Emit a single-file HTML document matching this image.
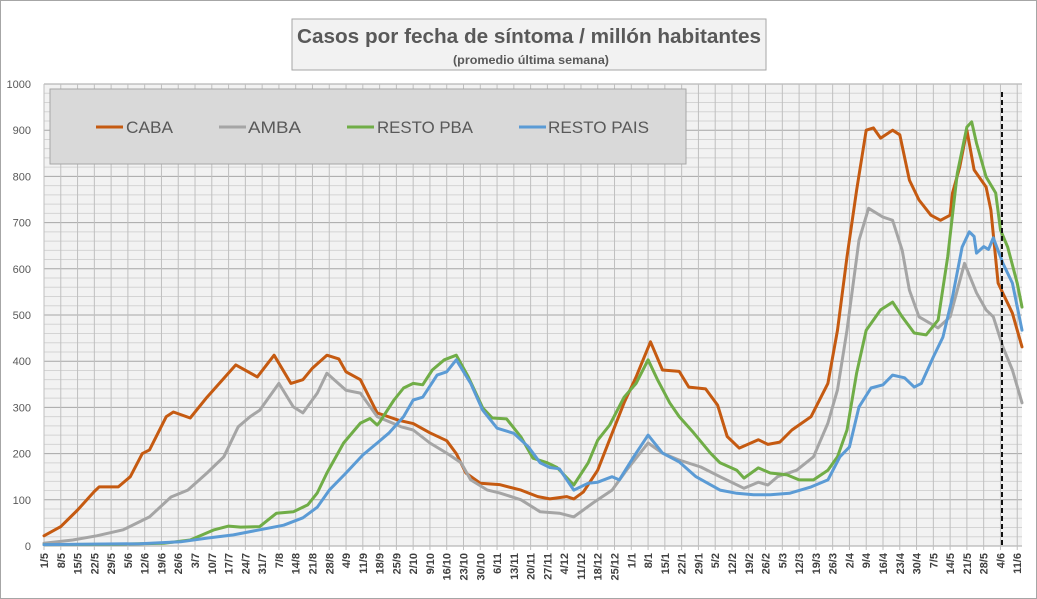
<!DOCTYPE html>
<html><head><meta charset="utf-8"><style>
html,body{margin:0;padding:0;background:#fff;}
svg{display:block;font-family:"Liberation Sans",sans-serif;}
</style></head><body>
<svg id="chart" width="1037" height="599" viewBox="0 0 1037 599">
<rect x="0.5" y="0.5" width="1036" height="598" fill="#fff" stroke="#a6a6a6"/>
<rect x="44" y="84" width="978" height="462" fill="#f2f2f2"/>
<g id="grid"></g>
<g id="yaxis"></g>
<g id="xaxis"></g>
<g id="series"></g>
<line x1="1002" y1="92" x2="1002" y2="546" stroke="#111" stroke-width="2" stroke-dasharray="5,3"/>
<g>
<rect x="292" y="19" width="474" height="51" fill="#f2f2f2" stroke="#a6a6a6"/>
<text x="529" y="43" text-anchor="middle" font-size="20" font-weight="bold" fill="#595959" textLength="464" lengthAdjust="spacingAndGlyphs">Casos por fecha de síntoma / millón habitantes</text>
<text x="531" y="64" text-anchor="middle" font-size="12" font-weight="bold" fill="#595959" textLength="156" lengthAdjust="spacingAndGlyphs">(promedio última semana)</text>
</g>
<g>
<rect x="50" y="89" width="636" height="75" fill="#d9d9d9" stroke="#a6a6a6"/>
<g><line x1="96" y1="127" x2="123" y2="127" stroke="#c55a11" stroke-width="3"/><text x="126" y="133" font-size="17" fill="#595959" textLength="47" lengthAdjust="spacingAndGlyphs">CABA</text></g>
<g><line x1="219" y1="127" x2="246" y2="127" stroke="#a5a5a5" stroke-width="3"/><text x="248" y="133" font-size="17" fill="#595959" textLength="53" lengthAdjust="spacingAndGlyphs">AMBA</text></g>
<g><line x1="347" y1="127" x2="374" y2="127" stroke="#70ad47" stroke-width="3"/><text x="377" y="133" font-size="17" fill="#595959" textLength="96" lengthAdjust="spacingAndGlyphs">RESTO PBA</text></g>
<g><line x1="519" y1="127" x2="546" y2="127" stroke="#5b9bd5" stroke-width="3"/><text x="548" y="133" font-size="17" fill="#595959" textLength="101" lengthAdjust="spacingAndGlyphs">RESTO PAIS</text></g>
</g>
</svg>
<script>
const tickLabels=["1/5","8/5","15/5","22/5","29/5","5/6","12/6","19/6","26/6","3/7","10/7","17/7","24/7","31/7","7/8","14/8","21/8","28/8","4/9","11/9","18/9","25/9","2/10","9/10","16/10","23/10","30/10","6/11","13/11","20/11","27/11","4/12","11/12","18/12","25/12","1/1","8/1","15/1","22/1","29/1","5/2","12/2","19/2","26/2","5/3","12/3","19/3","26/3","2/4","9/4","16/4","23/4","30/4","7/5","14/5","21/5","28/5","4/6","11/6"];
const yTicks=[0,100,200,300,400,500,600,700,800,900,1000];
const cabaDays=[0,7,14,21,23,31,36,41,44,51,54,61,68,80,89,96,103,108,112,118,123,126,132,139,148,154,161,168,172,176,182,190,199,206,211,218,221,225,231,237,242,247,253,258,265,269,276,281,285,290,298,302,307,312,320,327,331,335,339,343,346,349,354,357,361,365,370,374,378,379,382,385,388,393,395,398,404,408];
const cabaVals=[22,42,78,118,128,128,150,200,208,280,290,277,322,392,366,413,352,360,385,413,405,377,360,288,272,265,245,228,200,158,136,133,121,107,102,107,102,117,164,244,310,366,442,381,378,344,340,305,237,212,230,220,225,251,280,352,467,626,770,900,905,883,900,890,792,749,716,705,716,764,820,900,814,777,727,569,504,431];
const ambaDays=[0,12,22,33,44,53,60,68,75,81,86,90,98,104,108,114,118,126,132,139,149,154,161,168,174,178,185,190,199,207,215,221,229,237,243,252,258,265,274,282,292,298,302,306,314,321,327,331,335,340,344,350,354,358,361,365,373,378,384,389,393,396,400,404,408];
const ambaVals=[6,13,22,35,63,106,121,158,193,258,280,294,352,301,288,331,374,337,331,280,258,251,223,201,180,143,121,115,100,74,71,63,93,121,164,223,201,186,171,150,125,138,132,150,164,193,266,338,467,662,731,712,705,640,554,496,472,496,612,548,511,496,431,381,310];
const pbaDays=[0,30,50,61,71,77,82,90,97,104,110,114,118,125,132,136,139,140,146,150,154,158,162,167,172,177,183,187,193,199,204,210,214,221,227,231,236,242,247,252,256,261,265,271,278,282,289,292,298,303,310,315,321,327,331,335,339,343,349,354,358,363,368,373,377,381,385,387,389,393,397,399,402,406,408];
const pbaVals=[3,4,6,13,35,43,41,42,71,74,89,115,158,223,266,276,262,268,316,342,352,349,381,403,413,366,299,277,275,236,190,180,170,132,180,229,262,322,352,403,359,310,280,245,201,180,164,147,169,158,154,143,143,164,193,251,374,467,511,528,496,461,457,489,626,807,907,918,872,799,764,684,647,569,517];
const paisDays=[0,40,57,68,79,90,100,108,114,119,126,133,139,144,150,154,158,164,168,172,178,183,189,196,202,207,211,215,221,227,231,237,240,246,252,258,265,272,282,289,296,303,311,320,327,332,336,340,345,350,354,359,363,366,371,375,379,383,386,388,389,392,394,396,400,404,408];
const paisVals=[3,5,9,17,24,35,45,61,84,121,158,197,223,245,280,316,322,370,377,403,352,294,255,244,215,180,170,167,121,136,138,150,143,193,240,201,182,150,121,114,111,111,114,128,143,193,214,301,342,349,370,364,344,352,409,452,539,647,680,670,634,648,642,667,612,569,467];

const NS="http://www.w3.org/2000/svg";
const X0=44,PXD=16.78/7,Y0=546,PXV=0.462;
function xs(d){return X0+d*PXD;}
function ys(v){return Y0-v*PXV;}
function mk(tag,attrs,parent){const e=document.createElementNS(NS,tag);for(const k in attrs)e.setAttribute(k,attrs[k]);parent.appendChild(e);return e;}
const grid=document.getElementById('grid');
for(let v=0;v<=1000;v+=20){
  const gl=mk('line',{x1:X0,x2:1022,y1:ys(v),y2:ys(v),stroke:v%100===0?'#a6a6a6':'#d4d4d4','stroke-width':1},grid);
  
  
}
for(let i=0;i<tickLabels.length;i++){
  const vl=mk('line',{x1:xs(i*7),x2:xs(i*7),y1:84,y2:550,stroke:'#bfbfbf','stroke-width':1},grid);
  
  
}
const ya=document.getElementById('yaxis');
yTicks.forEach(v=>{
  const t=mk('text',{x:31,y:ys(v)+4,'text-anchor':'end','font-size':11,fill:'#595959'},ya);
  t.textContent=v;
  
  
});
const xa=document.getElementById('xaxis');
tickLabels.forEach((lab,i)=>{
  const x=xs(i*7)+4;
  const t=mk('text',{x:x,y:553,transform:`rotate(-90 ${x} 553)`,'text-anchor':'end','font-size':11,'font-weight':'bold',fill:'#404040'},xa);
  t.textContent=lab;
  
  
});
const sg=document.getElementById('series');
function drawSeries(days,vals,color,name){
  const pts=days.map((d,i)=>xs(d).toFixed(1)+','+ys(vals[i]).toFixed(1)).join(' ');
  const p=mk('polyline',{points:pts,fill:'none',stroke:color,'stroke-width':3,'stroke-linejoin':'round','stroke-linecap':'round'},sg);
  
  
}
drawSeries(cabaDays,cabaVals,'#c55a11','line-caba');
drawSeries(ambaDays,ambaVals,'#a5a5a5','line-amba');
drawSeries(pbaDays,pbaVals,'#70ad47','line-resto-pba');
drawSeries(paisDays,paisVals,'#5b9bd5','line-resto-pais');
</script>
</body></html>
